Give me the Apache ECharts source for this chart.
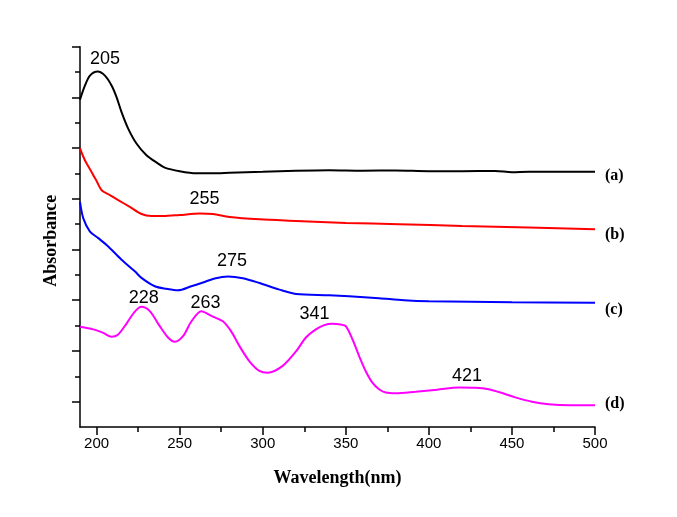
<!DOCTYPE html>
<html>
<head>
<meta charset="utf-8">
<script src="https://cdn.jsdelivr.net/npm/echarts@6/dist/echarts.min.js"></script>
<style>
  html, body { margin: 0; padding: 0; background: #fff; }
  #main { width: 677px; height: 517px; }
</style>
</head>
<body>
<div id="main"></div>
<script>
// x ticks
var xMajor = [200, 250, 300, 350, 400, 450, 500];
var xMinor = [225, 275, 325, 375, 425, 475];
var yMinor = [1, 2, 3, 4, 5, 6, 7, 8, 9, 10, 11, 12, 13, 14, 15];
var yMajor = [1, 3, 5, 7, 9, 11, 13, 15];

// (a) black
var aWave = [190, 193, 196, 200.6, 205, 209, 212, 215, 219, 224, 230, 237, 241, 250, 260, 270, 280, 300, 320, 340, 360, 380, 400, 420, 440, 450, 460, 480, 500];
var aAbs  = [12.91, 13.47, 13.86, 14.02, 13.86, 13.47, 13.01, 12.42, 11.77, 11.18, 10.72, 10.39, 10.23, 10.09, 10.01, 10.01, 10.03, 10.07, 10.11, 10.13, 10.11, 10.12, 10.09, 10.09, 10.10, 10.05, 10.07, 10.07, 10.07];

// (b) red
var bWave = [190, 192, 194, 196, 198, 200, 203, 208, 213, 220, 227, 233, 240, 250, 262, 270, 280, 298, 320, 350, 382, 420, 460, 500];
var bAbs  = [11.0, 10.66, 10.39, 10.17, 9.93, 9.70, 9.34, 9.15, 8.95, 8.68, 8.40, 8.32, 8.32, 8.36, 8.42, 8.40, 8.28, 8.19, 8.13, 8.05, 8.0, 7.93, 7.87, 7.80];

// (c) blue
var cWave = [190, 192, 196, 201, 207, 215, 223, 227, 235, 242, 249, 257, 264, 271, 279, 288, 298, 310, 320, 340, 352, 370, 385, 400, 450, 500];
var cAbs  = [8.88, 8.23, 7.71, 7.45, 7.12, 6.60, 6.14, 5.88, 5.55, 5.45, 5.39, 5.55, 5.70, 5.86, 5.94, 5.87, 5.68, 5.42, 5.25, 5.20, 5.16, 5.08, 5.00, 4.96, 4.92, 4.90];

// (d) magenta
var dWave = [190, 198, 204, 209, 213, 218, 223, 227, 232, 238, 243, 247, 252, 257, 263, 270, 276, 281, 286, 292, 298, 303, 312, 320, 326, 332, 337, 342, 347, 350, 354, 358, 362, 366, 370, 374, 380, 392, 405, 418, 428, 436, 445, 452, 462, 472, 485, 500];
var dAbs  = [3.95, 3.85, 3.71, 3.56, 3.65, 4.08, 4.55, 4.74, 4.57, 3.98, 3.53, 3.36, 3.58, 4.16, 4.57, 4.35, 4.17, 3.77, 3.19, 2.59, 2.21, 2.14, 2.41, 2.98, 3.53, 3.85, 4.02, 4.07, 4.04, 3.98, 3.46, 2.80, 2.20, 1.75, 1.49, 1.36, 1.33, 1.39, 1.47, 1.56, 1.55, 1.49, 1.32, 1.17, 1.00, 0.90, 0.86, 0.86];

// peak labels: text, wavelength, height
var aPeaks = [['205', 205, 14.53]];
var bPeaks = [['255', 265, 9.01]];
var cPeaks = [['275', 281.5, 6.56]];
var dPeaks = [['228', 228.4, 5.09], ['263', 265.6, 4.90], ['341', 331.2, 4.44], ['421', 423, 2.01]];

function pairs(w, v) {
  var out = [];
  for (var i = 0; i < w.length; i++) out.push([w[i], v[i]]);
  return out;
}

function peaks(list) {
  return {
    symbol: 'circle',
    symbolSize: 0,
    silent: true,
    label: {
      show: true,
      position: 'inside',
      formatter: '{b}',
      color: '#000',
      fontFamily: 'Liberation Sans, Arial',
      fontSize: 18
    },
    data: list.map(function (p) { return { name: p[0], coord: [p[1], p[2]] }; })
  };
}

function mkSeries(name, color, w, v, pk, dy) {
  return {
    name: name,
    type: 'line',
    data: pairs(w, v),
    showSymbol: false,
    smooth: 0.3,
    lineStyle: { color: color, width: 2 },
    itemStyle: { color: color },
    endLabel: {
      show: true,
      formatter: name,
      distance: 10,
      offset: [0, dy],
      color: '#000',
      fontFamily: 'Liberation Serif, Times New Roman',
      fontWeight: 'bold',
      fontSize: 16
    },
    markPoint: peaks(pk)
  };
}

var chart = echarts.init(document.getElementById('main'), null, { renderer: 'canvas' });
var labelFont = 'Liberation Sans, Arial';
var titleFont = 'Liberation Serif, Times New Roman';

var option = {
  backgroundColor: '#fff',
  animation: false,
  grid: { left: 80, top: 46.7, right: 82, bottom: 90 },
  xAxis: [
    {
      type: 'value', min: 190, max: 500,
      name: 'Wavelength(nm)', nameLocation: 'middle', nameGap: 42,
      nameTextStyle: { fontFamily: titleFont, fontWeight: 'bold', fontSize: 18, color: '#000' },
      axisLine: { show: true, lineStyle: { color: '#000', width: 1.5 } },
      axisTick: { show: true, length: 8, customValues: xMajor, lineStyle: { color: '#000', width: 1.5 } },
      axisLabel: { customValues: xMajor, margin: 9, color: '#000', fontFamily: labelFont, fontSize: 15 },
      splitLine: { show: false }
    },
    {
      type: 'value', min: 190, max: 500, position: 'bottom',
      axisLine: { show: false },
      axisTick: { show: true, length: 5, customValues: xMinor, lineStyle: { color: '#000', width: 1.5 } },
      axisLabel: { show: false },
      splitLine: { show: false }
    }
  ],
  yAxis: [
    {
      type: 'value', min: 0, max: 15,
      name: 'Absorbance', nameLocation: 'middle', nameGap: 20, nameRotate: 90,
      nameTextStyle: { fontFamily: titleFont, fontWeight: 'bold', fontSize: 18, color: '#000', padding: [0, 0, 0, -8] },
      axisLine: { show: true, lineStyle: { color: '#000', width: 1.5 } },
      axisTick: { show: true, length: 5, customValues: yMinor, lineStyle: { color: '#000', width: 1.5 } },
      axisLabel: { show: false },
      splitLine: { show: false }
    },
    {
      type: 'value', min: 0, max: 15, position: 'left',
      axisLine: { show: false },
      axisTick: { show: true, length: 8, customValues: yMajor, lineStyle: { color: '#000', width: 1.5 } },
      axisLabel: { show: false },
      splitLine: { show: false }
    }
  ],
  series: [
    mkSeries('(a)', '#000000', aWave, aAbs, aPeaks, 4),
    mkSeries('(b)', '#ff0000', bWave, bAbs, bPeaks, 6),
    mkSeries('(c)', '#0000ff', cWave, cAbs, cPeaks, 7),
    mkSeries('(d)', '#ff00ff', dWave, dAbs, dPeaks, -1)
  ]
};

chart.setOption(option);
</script>
</body>
</html>
